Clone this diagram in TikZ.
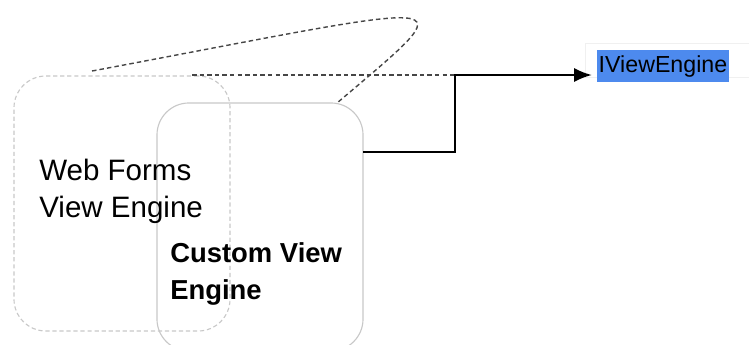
\documentclass[tikz,border=0pt]{standalone}
\usepackage{fontspec}
\setmainfont{Liberation Sans}
\usepackage{xcolor}
\usetikzlibrary{arrows.meta,positioning,calc}
\definecolor{ieblue}{RGB}{77,138,238}
\definecolor{boxgray}{RGB}{200,200,200}
\definecolor{linkgray}{RGB}{70,70,70}

\tikzset{
  enginebox/.style={draw=boxgray,line width=0.8pt,rounded corners=0.8cm,inner sep=0pt},
  looselink/.style={draw=linkgray,line width=1pt,dash pattern=on 3.2pt off 2.2pt},
  implink/.style={draw=black,line width=1.4pt,-{Latex[length=12.5pt,width=10pt]}}
}

\begin{document}
\begin{tikzpicture}[x=0.025cm,y=-0.025cm]
            \useasboundingbox (0,0) rectangle (749,344);

            % engine boxes
            \node[enginebox,dash pattern=on 3pt off 2pt,minimum width=5.4cm,minimum height=6.375cm] (webforms) at (122,203.5) {};
            \node[enginebox,minimum width=5.15cm,minimum height=6.2cm] (customve) at (260,227) {};

            % labels
            \node[anchor=west,align=left,inner sep=0pt,font=\fontsize{21}{26.5}\selectfont] (wflabel) at (39,191) {Web Forms\\View Engine};
            \node[anchor=west,align=left,inner sep=0pt,font=\fontsize{19.5}{26.5}\selectfont\bfseries] (cvlabel) at (170,274) {Custom View\\Engine};

            % interface
            \draw[gray!12] (585,43) rectangle (749,77);
            \node[fill=ieblue,anchor=west,inner xsep=1pt,minimum height=0.8cm,font=\fontsize{16.5}{20}\selectfont] (iviewengine) at (597,66) {IViewEngine};

            % connections
            \coordinate (bend) at (455,75);
            \coordinate (wfout) at (92,71);
            \coordinate (wfside) at (192,75);
            \coordinate (cvtop) at (337,103);
            \coordinate (cvout) at (363,152);
            \draw[looselink] (wfout) .. controls (470,0) and (470,-10) .. (cvtop);
            \draw[looselink] (wfside) -- (bend);
            \draw[implink] (cvout) -| (bend) -- ([xshift=-0.13cm]iviewengine.west |- bend);
        \end{tikzpicture}
\end{document}
